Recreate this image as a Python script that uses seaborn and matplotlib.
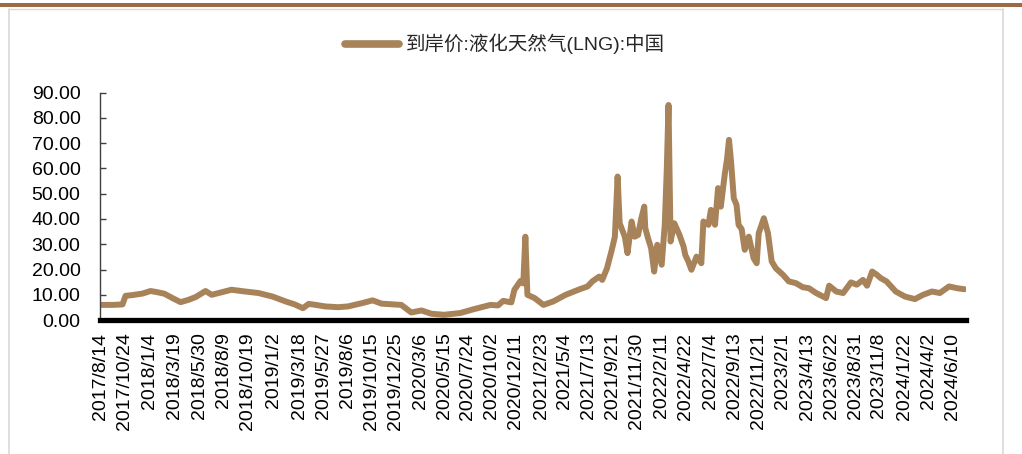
import matplotlib
matplotlib.use("Agg")
import matplotlib.pyplot as plt
from matplotlib.patches import Rectangle
from matplotlib.lines import Line2D
import seaborn as sns
import pandas as pd

# LNG landed price, China (USD/MMBtu)
dates = [
    "2017-08-14", "2017-09-18", "2017-10-17", "2017-10-26", "2017-11-16", "2017-12-15",
    "2018-01-07", "2018-01-28", "2018-02-17", "2018-03-15", "2018-04-05", "2018-04-28",
    "2018-05-19", "2018-06-17", "2018-07-05", "2018-07-25", "2018-09-01", "2018-10-11",
    "2018-11-19", "2018-12-30", "2019-02-10", "2019-03-05", "2019-03-29", "2019-04-15",
    "2019-05-06", "2019-06-02", "2019-07-10", "2019-08-08", "2019-09-18", "2019-10-19",
    "2019-11-14", "2019-12-21", "2020-01-11", "2020-02-09", "2020-03-10", "2020-04-08",
    "2020-05-15", "2020-07-02", "2020-08-10", "2020-09-28", "2020-10-20", "2020-11-04",
    "2020-11-28", "2020-12-07", "2020-12-25", "2021-01-02", "2021-01-08", "2021-01-14",
    "2021-02-04", "2021-03-02", "2021-03-31", "2021-05-06", "2021-06-16", "2021-07-09",
    "2021-07-23", "2021-08-12", "2021-08-21", "2021-09-04", "2021-09-18", "2021-09-27",
    "2021-10-05", "2021-10-11", "2021-10-26", "2021-11-03", "2021-11-15", "2021-11-24",
    "2021-12-04", "2021-12-13", "2021-12-22", "2021-12-25", "2022-01-02", "2022-01-11",
    "2022-01-20", "2022-01-29", "2022-02-11", "2022-02-20", "2022-02-26", "2022-03-03",
    "2022-03-09", "2022-03-20", "2022-04-04", "2022-04-16", "2022-04-21", "2022-04-30",
    "2022-05-09", "2022-05-24", "2022-06-07", "2022-06-13", "2022-06-28", "2022-07-05",
    "2022-07-17", "2022-07-26", "2022-08-03", "2022-08-15", "2022-08-21", "2022-08-27",
    "2022-09-02", "2022-09-10", "2022-09-18", "2022-09-24", "2022-10-03", "2022-10-12",
    "2022-10-24", "2022-11-07", "2022-11-16", "2022-11-22", "2022-12-07", "2022-12-19",
    "2022-12-30", "2023-01-11", "2023-02-01", "2023-02-18", "2023-03-11", "2023-03-31",
    "2023-04-18", "2023-05-09", "2023-06-07", "2023-06-16", "2023-07-07", "2023-07-27",
    "2023-08-19", "2023-09-05", "2023-09-23", "2023-10-05", "2023-10-20", "2023-11-03",
    "2023-11-14", "2023-12-01", "2023-12-28", "2024-01-24", "2024-02-22", "2024-03-17",
    "2024-04-12", "2024-05-05", "2024-06-01", "2024-06-25", "2024-07-16",
]
prices = [
    6.0, 6.0, 6.2, 9.6, 9.9, 10.5,
    11.5, 11.0, 10.4, 8.5, 7.1, 8.0,
    9.1, 11.5, 10.0, 10.7, 12.0, 11.3,
    10.7, 9.3, 7.2, 6.2, 4.7, 6.4,
    6.0, 5.4, 5.1, 5.4, 6.7, 7.8,
    6.5, 6.2, 6.0, 3.0, 3.8, 2.5,
    2.1, 2.8, 4.3, 6.0, 5.8, 7.6,
    7.0, 12.0, 15.5, 14.5, 33.0, 10.0,
    8.7, 6.0, 7.4, 10.0, 12.2, 13.3,
    15.3, 17.2, 15.9, 20.5, 27.8, 33.0,
    56.8, 38.3, 33.0, 26.5, 39.0, 33.0,
    33.7, 40.0, 44.9, 36.4, 32.4, 28.5,
    19.2, 29.8, 21.9, 37.7, 60.0, 85.1,
    31.1, 38.3, 33.7, 29.1, 25.8, 23.2,
    19.9, 25.1, 22.5, 39.0, 37.7, 43.6,
    37.7, 52.2, 44.9, 58.1, 63.4, 71.3,
    62.7, 48.2, 45.6, 37.7, 36.0, 27.8,
    33.0, 24.5, 22.5, 34.4, 40.3, 34.4,
    23.2, 20.5, 17.9, 15.3, 14.6, 13.0,
    12.6, 10.7, 8.7, 13.6, 11.3, 10.7,
    14.9, 14.0, 15.9, 13.6, 19.2, 17.9,
    16.6, 15.3, 11.3, 9.3, 8.3, 10.0,
    11.3, 10.7, 13.3, 12.6, 12.2,
]
tick_dates = [
    "2017-08-14", "2017-10-24", "2018-01-04", "2018-03-19", "2018-05-30", "2018-08-09",
    "2018-10-19", "2019-01-02", "2019-03-18", "2019-05-27", "2019-08-06", "2019-10-15",
    "2019-12-25", "2020-03-06", "2020-05-15", "2020-07-24", "2020-10-02", "2020-12-11",
    "2021-02-23", "2021-05-04", "2021-07-13", "2021-09-21", "2021-11-30", "2022-02-11",
    "2022-04-22", "2022-07-04", "2022-09-13", "2022-11-21", "2023-02-01", "2023-04-13",
    "2023-06-22", "2023-08-31", "2023-11-08", "2024-01-22", "2024-04-02", "2024-06-10",
]
y_ticks = [0, 10, 20, 30, 40, 50, 60, 70, 80, 90]
series_name = "到岸价:液化天然气(LNG):中国"

line_color = "#A8835A"

sns.set_theme(style="white")
plt.rcParams["font.family"] = ["Liberation Sans", "Noto Sans CJK SC", "DejaVu Sans"]

df = pd.DataFrame({"date": pd.to_datetime(dates), "price": prices})
ticks = pd.to_datetime(tick_dates)

fig = plt.figure(figsize=(10.22, 4.54), dpi=100)
ax = fig.add_axes([0.0978, 0.295, 0.8472, 0.501])

sns.lineplot(data=df, x="date", y="price", ax=ax, color=line_color,
             linewidth=4.3, solid_joinstyle="round", solid_capstyle="round")

ax.set_ylim(0, 90)
ax.set_yticks(y_ticks)
ax.set_yticklabels([f"{v:.2f}" for v in y_ticks])
ax.set_xlim(pd.Timestamp("2017-08-12"), pd.Timestamp("2024-07-20"))
ax.set_xticks(ticks)
ax.set_xticklabels([f"{d.year}/{d.month}/{d.day}" for d in ticks], rotation=90)
ax.set_xlabel("")
ax.set_ylabel("")

for side in ("top", "right"):
    ax.spines[side].set_visible(False)
ax.spines["left"].set_color("#404040")
ax.spines["left"].set_linewidth(1.0)
ax.spines["bottom"].set_color("black")
ax.spines["bottom"].set_linewidth(3.8)
ax.spines["bottom"].set_zorder(5)

ax.tick_params(axis="y", direction="in", length=4, width=1, color="#404040",
               labelsize=14, pad=14, labelcolor="black", left=True)
ax.tick_params(axis="x", length=0, labelsize=14, pad=9, labelcolor="black")

# legend above the plot
handle = Line2D([], [], color=line_color, linewidth=5.5, solid_capstyle="round")
fig.legend([handle], [series_name], loc="center", bbox_to_anchor=(0.494, 0.903),
           frameon=False, fontsize=14, handlelength=2.8, handletextpad=0.35)

# page frame: brown rule at top and light grey border
fig.add_artist(Rectangle((0, 1 - 7 / 454), 1, 3.5 / 454, transform=fig.transFigure,
                         color="#9C6B45", linewidth=0))
fig.add_artist(Line2D([9 / 1022, 9 / 1022], [0, 1 - 9 / 454], transform=fig.transFigure,
                      color="#D9D9D9", linewidth=1.2))
fig.add_artist(Line2D([1003 / 1022, 1003 / 1022], [0, 1 - 9 / 454], transform=fig.transFigure,
                      color="#D9D9D9", linewidth=1.2))
fig.add_artist(Line2D([9 / 1022, 1003 / 1022], [1 - 9 / 454, 1 - 9 / 454], transform=fig.transFigure,
                      color="#D9D9D9", linewidth=1.0))

fig.savefig("out.png", dpi=100)
